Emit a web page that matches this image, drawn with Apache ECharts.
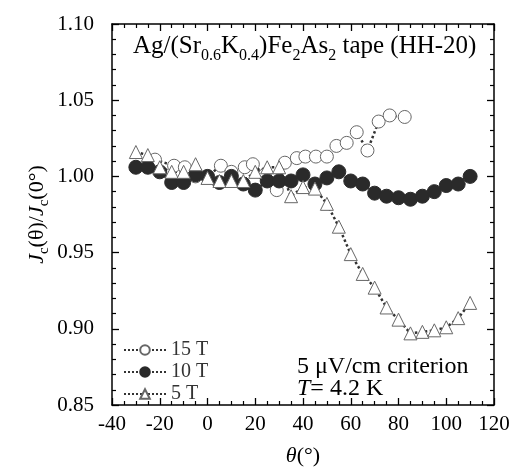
<!DOCTYPE html>
<html>
<head>
<meta charset="utf-8">
<script src="https://cdn.jsdelivr.net/npm/echarts@6/dist/echarts.min.js"></script>
<style>html,body{margin:0;padding:0;background:#fff}#c{width:518px;height:473px}</style>
</head>
<body>
<div id="c"></div>
<script>
var xTicks = [-40, -20, 0, 20, 40, 60, 80, 100, 120];
var yTicks = [0.85, 0.90, 0.95, 1.00, 1.05, 1.10];

var theta15 = [-22, -14, -9.5, -5, 0, 5.6, 10, 15.6, 19, 24, 29, 32.4, 37.4, 41, 45.4, 50, 54, 58.3, 62.5, 67, 71.7, 76.3, 82.6];
var jc15 = [1.011, 1.007, 1.006, 1.000, 1.000, 1.007, 1.003, 1.006, 1.008, 1.001, 0.991, 1.009, 1.012, 1.013, 1.013, 1.013, 1.020, 1.022, 1.029, 1.017, 1.036, 1.040, 1.039];

var theta10 = [-30, -25, -20, -15, -10, -5, 0, 5, 10, 15, 20, 25, 30, 35, 40, 45, 50, 55, 60, 65, 70, 75, 80, 85, 90, 95, 100, 105, 110];
var jc10 = [1.006, 1.006, 1.003, 0.996, 0.996, 1.001, 1.000, 0.996, 1.000, 0.995, 0.991, 0.997, 0.997, 0.997, 1.001, 0.995, 0.999, 1.003, 0.997, 0.995, 0.989, 0.987, 0.986, 0.985, 0.987, 0.990, 0.994, 0.995, 1.000];

var theta5 = [-30, -25, -20, -15, -10, -5, 0, 5, 10, 15, 20, 25, 30, 35, 40, 45, 50, 55, 60, 65, 70, 75, 80, 85, 90, 95, 100, 105, 110];
var jc5 = [1.016, 1.014, 1.006, 1.003, 1.003, 1.008, 0.999, 0.997, 0.997, 0.997, 1.003, 1.006, 1.006, 0.987, 0.993, 0.992, 0.982, 0.967, 0.949, 0.936, 0.927, 0.914, 0.906, 0.897, 0.898, 0.899, 0.901, 0.907, 0.917];

var seriesNames = ['15 T', '10 T', '5 T'];

function pairs(xs, ys) { return xs.map(function (x, i) { return [x, ys[i]]; }); }

var FF = 'Liberation Serif';
var chart = echarts.init(document.getElementById('c'), null, {renderer: 'canvas'});

function xAx(pos, labels) {
  return {
    type: 'value', position: pos, min: xTicks[0], max: xTicks[xTicks.length - 1], interval: 20,
    axisLine: {show: true, onZero: false, lineStyle: {color: '#000', width: 1.5}},
    axisTick: {show: true, inside: true, length: 7, lineStyle: {color: '#000', width: 1.3}},
    minorTick: {show: true, splitNumber: 4, length: 4, lineStyle: {color: '#000', width: 1.2}},
    splitLine: {show: false}, minorSplitLine: {show: false},
    axisLabel: {show: labels, color: '#000', fontFamily: FF, fontSize: 21, margin: 9}
  };
}
function yAx(pos, labels) {
  return {
    type: 'value', position: pos, min: yTicks[0], max: yTicks[yTicks.length - 1], interval: 0.05,
    axisLine: {show: true, onZero: false, lineStyle: {color: '#000', width: 1.5}},
    axisTick: {show: true, inside: true, length: 7, lineStyle: {color: '#000', width: 1.3}},
    minorTick: {show: true, splitNumber: 5, length: 4, lineStyle: {color: '#000', width: 1.2}},
    splitLine: {show: false}, minorSplitLine: {show: false},
    axisLabel: {show: labels, color: '#000', fontFamily: FF, fontSize: 21, margin: 18,
      formatter: function (v) { return v.toFixed(2); }}
  };
}

var xa = xAx('bottom', true);
xa.name = '{i|θ}{n|(°)}';
xa.nameLocation = 'middle';
xa.nameGap = 40;
xa.nameTextStyle = {rich: {i: {fontFamily: FF, fontSize: 22, fontStyle: 'italic', color: '#000'}, n: {fontFamily: FF, fontSize: 22, color: '#000'}}};
var ya = yAx('left', true);
ya.name = '{i|J}{s|c}{n|(θ)/}{i|J}{s|c}{n|(0°)}';
ya.nameLocation = 'middle';
ya.nameGap = 60;
ya.nameMoveOverlap = false;
ya.nameRotate = 90;
ya.nameTextStyle = {rich: {
  i: {fontFamily: FF, fontSize: 22, fontStyle: 'italic', color: '#000'},
  n: {fontFamily: FF, fontSize: 22, color: '#000'},
  s: {fontFamily: FF, fontSize: 15, color: '#000', padding: [15, 0, 0, 0]}
}};

var lineCol = '#333';
var option = {
  animation: false,
  grid: {left: 112, right: 24, top: 24, bottom: 68},
  xAxis: [xa, xAx('top', false)],
  yAxis: [ya, yAx('right', false)],
  title: [
    {text: '{n|Ag/(Sr}{s|0.6}{n|K}{s|0.4}{n|)Fe}{s|2}{n|As}{s|2}{n| tape (HH-20)}', left: 133, top: 29, padding: 0,
      textStyle: {fontWeight: 'normal', rich: {n: {fontFamily: FF, fontSize: 25, fontWeight: 'normal', color: '#000'}, s: {fontFamily: FF, fontSize: 16, fontWeight: 'normal', color: '#000', padding: [19, 0, 0, 0]}}}},
    {text: '5 μV/cm criterion', left: 297, top: 355, padding: 0, textStyle: {fontFamily: FF, fontSize: 24, fontWeight: 'normal', color: '#000'}},
    {text: '{i|T}{n|= 4.2 K}', left: 297, top: 377, padding: 0,
      textStyle: {fontWeight: 'normal', rich: {i: {fontFamily: FF, fontSize: 24, fontStyle: 'italic', fontWeight: 'normal', color: '#000'}, n: {fontFamily: FF, fontSize: 24, fontWeight: 'normal', color: '#000'}}}}
  ],
  legend: {
    orient: 'vertical', left: 118, top: 335, itemWidth: 42, itemHeight: 12, itemGap: 2,
    textStyle: {fontFamily: FF, fontSize: 20, color: '#333', lineHeight: 17},
    data: seriesNames
  },
  series: [
    {name: seriesNames[0], type: 'line', data: pairs(theta15, jc15), symbol: 'circle', symbolSize: 13,
      itemStyle: {color: '#fff', borderColor: '#666', borderWidth: 1},
      lineStyle: {color: lineCol, width: 2.5, type: 'dotted'}},
    {name: seriesNames[1], type: 'line', data: pairs(theta10, jc10), symbol: 'circle', symbolSize: 14,
      itemStyle: {color: '#2a2a2a', borderColor: '#2a2a2a', borderWidth: 1},
      lineStyle: {color: lineCol, width: 2.5, type: 'dotted'}},
    {name: seriesNames[2], type: 'line', data: pairs(theta5, jc5), symbol: 'triangle', symbolSize: 13,
      itemStyle: {color: '#fff', borderColor: '#666', borderWidth: 1},
      lineStyle: {color: lineCol, width: 2.5, type: 'dotted'}}
  ]
};
chart.setOption(option);
</script>
</body>
</html>
